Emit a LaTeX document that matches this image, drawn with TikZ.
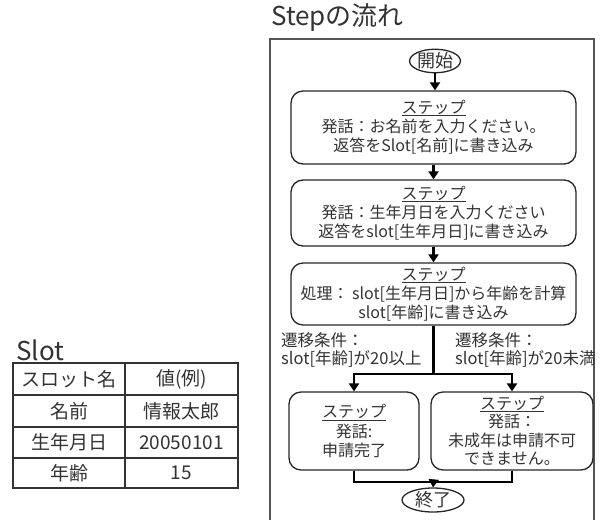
\documentclass[tikz,border=0pt]{standalone}
\usepackage{fontspec}
\setmainfont{Noto Sans CJK JP}
\usetikzlibrary{arrows.meta,shapes.geometric}
\definecolor{txt}{HTML}{333333}
\definecolor{frm}{HTML}{555555}
\newcommand\ulx[1]{\setbox0\hbox{#1}\rlap{\rule[-2.6pt]{\wd0}{0.9pt}}\box0}
\tikzset{
  stepbox/.style={draw=black!85, line width=1.3pt, rounded corners=12pt, inner sep=0pt, align=center,
    font=\fontsize{16}{19}\selectfont, text=txt},
  term/.style={draw=black!85, line width=1.3pt, ellipse, inner sep=0pt, font=\fontsize{18}{18}\selectfont, text=txt},
  wire/.style={line width=2.2pt, black},
  conn/.style={line width=2.2pt, black, -{Triangle[width=10pt,length=8pt]}},
  lbl/.style={anchor=west, align=left, inner sep=0pt, font=\fontsize{16.5}{18.5}\selectfont, text=txt},
  ttl/.style={anchor=west, inner sep=0pt, font=\fontsize{26}{26}\selectfont, text=txt},
  cell/.style={inner sep=0pt, font=\fontsize{19}{19}\selectfont, text=txt},
  grid/.style={draw=black!80, line width=1.3pt}
}
\begin{document}
\begin{tikzpicture}[x=1pt,y=-1pt]
\useasboundingbox (0,0) rectangle (601,519);
% frame
\node[ttl] (t1) at (271,18) {Stepの流れ};
\draw[draw=frm, line width=1.3pt] (270,521) -- (270,39) -- (594,39) -- (594,521);
% flow
\node[term, minimum width=50pt, minimum height=23pt] (st) at (435,61) {開始};
\node[stepbox, minimum width=285pt, minimum height=73pt] (b1) at (433.5,127.5)
  {\ulx{ステップ}\\発話：お名前を入力ください。\\返答をSlot[名前]に書き込み};
\node[stepbox, minimum width=285pt, minimum height=66pt] (b2) at (433.5,213)
  {\ulx{ステップ}\\発話：生年月日を入力ください\\返答をslot[生年月日]に書き込み};
\node[stepbox, minimum width=285pt, minimum height=62pt] (b3) at (433.5,294)
  {\ulx{ステップ}\\処理： slot[生年月日]から年齢を計算\\slot[年齢]に書き込み};
\node[stepbox, minimum width=130pt, minimum height=78pt] (b4) at (354,431)
  {\ulx{ステップ}\\発話:\\申請完了};
\node[stepbox, minimum width=162pt, minimum height=78pt, font=\fontsize{16}{18.5}\selectfont] (b5) at (512,431)
  {\ulx{ステップ}\\発話：\\未成年は申請不可\\できません。};
\node[term, minimum width=62pt, minimum height=24pt] (en) at (433,500) {終了};
\draw[conn] (st) -- (st |- b1.north);
\draw[conn] (b1) -- (b2);
\draw[conn] (b2) -- (b3);
\coordinate (j) at (433.5,374);
\coordinate (m) at (433.5,482);
\draw[wire] (b3.south) -- (j);
\draw[conn] (j) -| (b4.north);
\draw[conn] (j) -| (b5.north);
\draw[wire] (b4.south) |- (m);
\draw[wire] (b5.south) |- (m);
\draw[conn] (m) -- (en.north);
\node[lbl] (c1) at (281,350) {遷移条件：\\slot[年齢]が20以上};
\node[lbl] (c2) at (455,350) {遷移条件：\\slot[年齢]が20未満};
% slot table
\node[ttl] (t2) at (16,350) {Slot};
\draw[grid] (13,363) rectangle (238,488);
\draw[grid] (125,363) -- (125,488);
\draw[grid] (13,395) -- (238,395);
\draw[grid] (13,427) -- (238,427);
\draw[grid] (13,458) -- (238,458);
\node[cell] (h1) at (69,379) {スロット名};
\node[cell] (h2) at (181.5,379) {値(例)};
\node[cell] (r1a) at (69,411) {名前};
\node[cell] (r1b) at (181.5,411) {情報太郎};
\node[cell] (r2a) at (69,442.5) {生年月日};
\node[cell] (r2b) at (181.5,442.5) {20050101};
\node[cell] (r3a) at (69,473) {年齢};
\node[cell] (r3b) at (181.5,473) {15};
\end{tikzpicture}
\end{document}
